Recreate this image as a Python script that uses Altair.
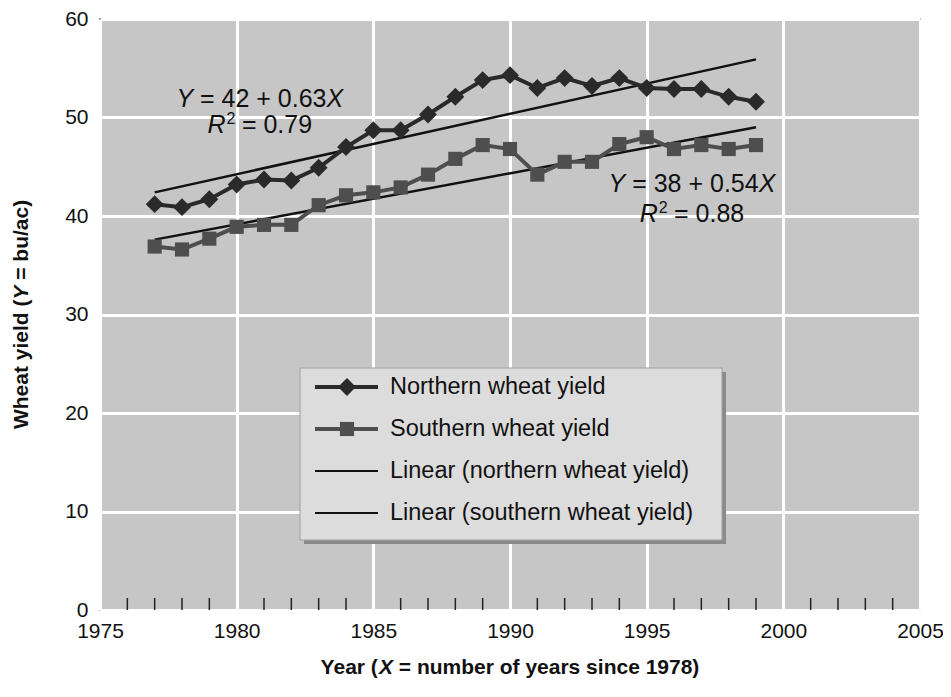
import altair as alt
import pandas as pd

FONT = "Liberation Sans"

# ---- data ----
years = [1977, 1978, 1979, 1980, 1981, 1982, 1983, 1984, 1985, 1986, 1987, 1988,
         1989, 1990, 1991, 1992, 1993, 1994, 1995, 1996, 1997, 1998, 1999]
northern = [41.2, 40.9, 41.7, 43.2, 43.7, 43.6, 44.9, 47.0, 48.7, 48.7, 50.3, 52.1,
            53.8, 54.3, 53.0, 54.0, 53.2, 54.0, 53.0, 52.9, 52.9, 52.1, 51.6]
southern = [36.9, 36.6, 37.7, 38.9, 39.1, 39.1, 41.1, 42.1, 42.4, 42.9, 44.2, 45.8,
            47.2, 46.8, 44.2, 45.5, 45.5, 47.3, 48.0, 46.8, 47.2, 46.8, 47.2]
trend_years = [1977, 1999]
northern_trend = [42.4, 55.9]
southern_trend = [37.6, 49.0]

x_ticks = [1975, 1980, 1985, 1990, 1995, 2000, 2005]
y_ticks = [0, 10, 20, 30, 40, 50, 60]
minor_tick_years = [1976, 1977, 1978, 1979, 1981, 1982, 1983, 1984, 1986, 1987, 1988, 1989,
                    1991, 1992, 1993, 1994, 1996, 1997, 1998, 1999, 2001, 2002, 2003, 2004]

legend_labels = ["Northern wheat yield", "Southern wheat yield",
                 "Linear (northern wheat yield)", "Linear (southern wheat yield)"]

# axis titles, split so the variable letters can be italic
x_title_parts = ["Year (", "X", "= number of years since 1978)"]
y_title_parts = ["Wheat yield (", "Y", "= bu/ac)"]

# annotation anchors (data coordinates) and texts
ann_x = [1980.85, 1996.66]
ann_eq_y = [51.9, 43.2]
ann_r2_y = [49.2, 40.2]
eq_text = ["= 42 + 0.63", "= 38 + 0.54"]
r2_text = ["= 0.79", "= 0.88"]

DARK = "#2a2a2a"
MID = "#4e4e4e"
BLACK = "#111111"

W, H = 820, 591

xscale = alt.Scale(domain=[1975, 2005], nice=False, zero=False)
yscale = alt.Scale(domain=[0, 60], nice=False)

x_axis = alt.Axis(values=x_ticks, format="d", title=None,
                  grid=True, ticks=False, domain=False, labelFontSize=21, labelPadding=10,
                  labelFlush=False)
y_axis = alt.Axis(values=y_ticks, title=None, grid=True, ticks=False,
                  domain=False, labelFontSize=21, labelPadding=12)

df = pd.DataFrame({"year": years, "northern": northern, "southern": southern})
trend_df = pd.DataFrame({"year": trend_years, "n": northern_trend, "s": southern_trend})
tick_df = pd.DataFrame({"year": minor_tick_years})

X = alt.X("year:Q", scale=xscale, axis=x_axis)

north_line = alt.Chart(df).mark_line(color=DARK, strokeWidth=4).encode(
    x=X, y=alt.Y("northern:Q", scale=yscale, axis=y_axis))
north_pts = alt.Chart(df).mark_point(shape="diamond", filled=True, size=320, color=DARK,
                                     opacity=1).encode(x=X, y=alt.Y("northern:Q", scale=yscale))
south_line = alt.Chart(df).mark_line(color=MID, strokeWidth=4).encode(
    x=X, y=alt.Y("southern:Q", scale=yscale))
south_pts = alt.Chart(df).mark_point(shape="square", filled=True, size=200, color=MID,
                                     opacity=1).encode(x=X, y=alt.Y("southern:Q", scale=yscale))
north_trend = alt.Chart(trend_df).mark_line(color=BLACK, strokeWidth=2.5).encode(
    x=X, y=alt.Y("n:Q", scale=yscale))
south_trend = alt.Chart(trend_df).mark_line(color=BLACK, strokeWidth=2.5).encode(
    x=X, y=alt.Y("s:Q", scale=yscale))

minor_ticks = alt.Chart(tick_df).mark_rule(color="#222222", strokeWidth=1.5).encode(
    x=X, y=alt.value(H), y2=alt.value(H - 12))


def piece(x, y, text, dx, italic=False, size=25, dy=0):
    d = pd.DataFrame({"x": [x], "y": [y], "t": [text]})
    return alt.Chart(d).mark_text(align="left", baseline="middle", dx=dx, dy=dy,
                                  fontSize=size, font=FONT, color=BLACK,
                                  fontStyle="italic" if italic else "normal").encode(
        x=alt.X("x:Q", scale=xscale), y=alt.Y("y:Q", scale=yscale), text="t:N")


ann_layers = []
for i in range(2):
    ann_layers += [
        piece(ann_x[i], ann_eq_y[i], "Y", -83.5, italic=True),
        piece(ann_x[i], ann_eq_y[i], eq_text[i], -59.9),
        piece(ann_x[i], ann_eq_y[i], "X", 66.6, italic=True),
        piece(ann_x[i], ann_r2_y[i], "R", -52.3, italic=True),
        piece(ann_x[i], ann_r2_y[i], "2", -33.3, size=16, dy=-6),
        piece(ann_x[i], ann_r2_y[i], r2_text[i], -18),
    ]


def title_piece(text, px, py, dx, italic=False, angle=0):
    d = pd.DataFrame({"t": [text]})
    return alt.Chart(d).mark_text(align="left", baseline="middle", dx=dx, angle=angle,
                                  fontSize=21, fontWeight="bold", font=FONT, color=BLACK,
                                  fontStyle="italic" if italic else "normal").encode(
        x=alt.value(px), y=alt.value(py), text="t:N")


# x title: total width ~379 px, centred under the plot
title_layers = [
    title_piece(x_title_parts[0], W / 2, H + 58, -189.4),
    title_piece(x_title_parts[1], W / 2, H + 58, -131.0, italic=True),
    title_piece(x_title_parts[2], W / 2, H + 58, -111.2),
    # y title rotated: total width ~229 px, centred on the plot height
    title_piece(y_title_parts[0], -78, H / 2, -114.6, angle=270),
    title_piece(y_title_parts[1], -78, H / 2, 14.9, italic=True, angle=270),
    title_piece(y_title_parts[2], -78, H / 2, 34.7, angle=270),
]

# ---- legend box (pixel positions inside the plot area) ----
leg_df = pd.DataFrame({"label": legend_labels})
one = leg_df.head(1)
leg_shadow = alt.Chart(one).mark_rect(fill="#8a8a8a").encode(
    x=alt.value(204), x2=alt.value(626), y=alt.value(353), y2=alt.value(525))
leg_box = alt.Chart(one).mark_rect(fill="#dcdcdc", stroke="#a0a0a0", strokeWidth=1).encode(
    x=alt.value(200), x2=alt.value(622), y=alt.value(349), y2=alt.value(521))

row_y = [368, 410, 452, 494]
leg_layers = [leg_shadow, leg_box]
row_colors = [DARK, MID, BLACK, BLACK]
row_width = [4, 4, 2, 2]
for i, lab in enumerate(legend_labels):
    src = leg_df[leg_df["label"] == lab]
    leg_layers.append(alt.Chart(src).mark_rule(color=row_colors[i], strokeWidth=row_width[i]).encode(
        x=alt.value(215), x2=alt.value(278), y=alt.value(row_y[i])))
    if i == 0:
        leg_layers.append(alt.Chart(src).mark_point(shape="diamond", filled=True, size=320,
                                                    color=DARK, opacity=1).encode(
            x=alt.value(247), y=alt.value(row_y[i])))
    if i == 1:
        leg_layers.append(alt.Chart(src).mark_point(shape="square", filled=True, size=200,
                                                    color=MID, opacity=1).encode(
            x=alt.value(247), y=alt.value(row_y[i])))
    leg_layers.append(alt.Chart(src).mark_text(align="left", baseline="middle", fontSize=23.5,
                                               font=FONT, color=BLACK).encode(
        x=alt.value(290), y=alt.value(row_y[i]), text="label:N"))

chart = alt.layer(
    minor_ticks, north_trend, south_trend, south_line, south_pts, north_line, north_pts,
    *ann_layers, *leg_layers, *title_layers
).properties(
    width=W, height=H,
    autosize=alt.AutoSizeParams(type="none"),
    padding={"left": 92, "top": 11, "right": 23, "bottom": 72},
    background="white",
).configure_view(
    fill="#c6c6c6", stroke="#222222", strokeWidth=1.5
).configure_axis(
    gridColor="white", gridWidth=3, gridOpacity=1, labelFont=FONT, titleFont=FONT,
    labelColor=BLACK, titleColor=BLACK
)

chart.save("out.html", embed_options={"renderer": "svg", "actions": False})
